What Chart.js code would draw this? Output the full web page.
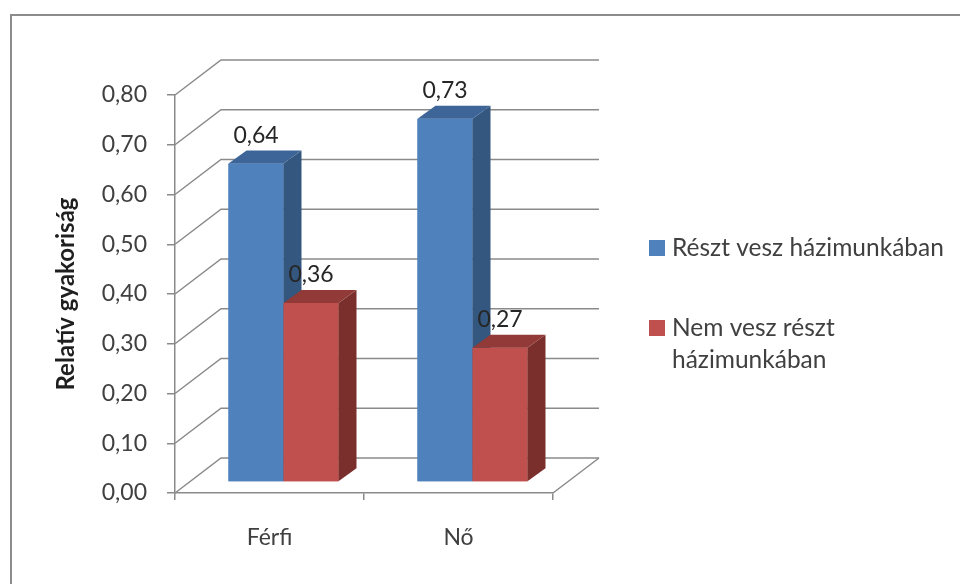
<!DOCTYPE html>
<html>
<head>
<meta charset="utf-8">
<script src="https://cdn.jsdelivr.net/npm/chart.js@4.4.1/dist/chart.umd.min.js"></script>
<style>
html,body{margin:0;padding:0;background:#fff;}
#wrap{width:960px;height:584px;position:relative;}
</style>
</head>
<body>
<div id="wrap"><canvas id="c" width="960" height="584"></canvas></div>
<script>
// ---- data ----
const categories = ['Férfi', 'Nő'];
const seriesLabels = ['Részt vesz házimunkában', 'Nem vesz részt házimunkában'];
const legendLines = [['Részt vesz házimunkában'], ['Nem vesz részt', 'házimunkában']];
const valuesReszt = [0.64, 0.73];
const valuesNem = [0.36, 0.27];
const yMin = 0, yMax = 0.8, yStep = 0.1;
const yTitle = 'Relatív gyakoriság';

// ---- style ----
const FONT = 'Lato, "Open Sans", sans-serif';
const FS = 23;
const LEGEND_FS = 24.5;
const frontColors = ['#4F81BD', '#C0504D'];
const sideColors = ['#34577F', '#7A2F2D'];
const topColors = ['#3D6598', '#913A37'];
const gridColor = '#8a8a8a';
const WALL_DX = 46, WALL_DY = -35;   // 3D depth of walls
const BAR_SHIFT_X = 14, BAR_SHIFT_Y = -11; // bars sit in middle depth
const BAR_DX = 18, BAR_DY = -13;     // bar depth
const fmt = v => v.toFixed(2).replace('.', ',');

const threeD = {
  id: 'threeD',
  beforeDraw(chart) {
    const ctx = chart.ctx;
    ctx.save();
    ctx.strokeStyle = '#8c8c8c';
    ctx.lineWidth = 2;
    ctx.strokeRect(11, 15, 1100, 800);
    ctx.restore();
  },
  beforeDatasetsDraw(chart) {
    const ctx = chart.ctx;
    const xs = chart.scales.x, ys = chart.scales.y;
    ctx.save();
    ctx.strokeStyle = gridColor;
    ctx.lineWidth = 1.5;
    ys.ticks.forEach(t => {
      const py = ys.getPixelForValue(t.value);
      ctx.beginPath();
      ctx.moveTo(xs.left, py);
      ctx.lineTo(xs.left + WALL_DX, py + WALL_DY);
      ctx.lineTo(xs.right + WALL_DX, py + WALL_DY);
      ctx.stroke();
    });
    const pb = ys.getPixelForValue(yMin);
    ctx.beginPath();
    ctx.moveTo(xs.right, pb);
    ctx.lineTo(xs.right + WALL_DX, pb + WALL_DY);
    ctx.stroke();
    ctx.restore();
    ctx.save();
    ctx.translate(BAR_SHIFT_X, BAR_SHIFT_Y);
  },
  afterDatasetsDraw(chart) {
    const ctx = chart.ctx;
    chart.data.datasets.forEach((ds, i) => {
      const meta = chart.getDatasetMeta(i);
      meta.data.forEach((bar, j) => {
        const p = bar.getProps(['x', 'y', 'base', 'width'], true);
        const l = p.x - p.width / 2, r = p.x + p.width / 2;
        ctx.fillStyle = frontColors[i];
        ctx.fillRect(l, p.y, p.width, p.base - p.y);
        ctx.fillStyle = sideColors[i];
        ctx.beginPath();
        ctx.moveTo(r, p.y);
        ctx.lineTo(r + BAR_DX, p.y + BAR_DY);
        ctx.lineTo(r + BAR_DX, p.base + BAR_DY);
        ctx.lineTo(r, p.base);
        ctx.closePath();
        ctx.fill();
        ctx.fillStyle = topColors[i];
        ctx.beginPath();
        ctx.moveTo(l, p.y);
        ctx.lineTo(l + BAR_DX, p.y + BAR_DY);
        ctx.lineTo(r + BAR_DX, p.y + BAR_DY);
        ctx.lineTo(r, p.y);
        ctx.closePath();
        ctx.fill();
      });
    });
    chart.data.datasets.forEach((ds, i) => {
      const meta = chart.getDatasetMeta(i);
      meta.data.forEach((bar, j) => {
        const p = bar.getProps(['x', 'y'], true);
        ctx.fillStyle = '#262626';
        ctx.font = FS + 'px ' + FONT;
        ctx.textAlign = 'center';
        ctx.textBaseline = 'middle';
        ctx.fillText(fmt(ds.data[j]), p.x, p.y - 28);
      });
    });
    ctx.restore();
  },
  afterDraw(chart) {
    const ctx = chart.ctx;
    ctx.save();
    ctx.font = LEGEND_FS + 'px ' + FONT;
    ctx.textBaseline = 'middle';
    ctx.textAlign = 'left';
    const starts = [248, 328];
    chart.data.datasets.forEach((ds, i) => {
      const y0 = starts[i];
      ctx.fillStyle = ds.backgroundColor;
      ctx.fillRect(649, y0 - 8, 16, 16);
      ctx.fillStyle = '#404040';
      legendLines[i].forEach((line, k) => {
        ctx.fillText(line, 672, y0 + k * 32);
      });
    });
    ctx.restore();
  }
};

new Chart(document.getElementById('c'), {
  type: 'bar',
  data: {
    labels: categories,
    datasets: [
      { label: seriesLabels[0], data: valuesReszt, backgroundColor: frontColors[0], categoryPercentage: 0.582, barPercentage: 1, borderWidth: 0 },
      { label: seriesLabels[1], data: valuesNem, backgroundColor: frontColors[1], categoryPercentage: 0.582, barPercentage: 1, borderWidth: 0 }
    ]
  },
  options: {
    responsive: false,
    devicePixelRatio: 1,
    animation: false,
    clip: false,
    layout: { padding: { left: 0, top: 95, right: 407, bottom: 0 } },
    plugins: {
      legend: { display: false },
      tooltip: { enabled: false },
      title: { display: false }
    },
    scales: {
      x: {
        offset: true,
        grid: { offset: true, drawOnChartArea: false, tickLength: 7, color: gridColor, lineWidth: 1.5 },
        border: { color: gridColor, width: 1.5 },
        ticks: { font: { family: FONT, size: FS }, color: '#404040', padding: 24 },
        afterFit: s => { s.height = 91; }
      },
      y: {
        min: yMin, max: yMax,
        grid: { drawOnChartArea: false, tickLength: 8, color: gridColor, lineWidth: 1.5 },
        border: { color: gridColor, width: 1.5 },
        ticks: { stepSize: yStep, font: { family: FONT, size: FS }, color: '#404040', padding: 20, callback: v => fmt(v) },
        title: { display: true, text: yTitle, font: { family: FONT, size: 24, weight: 'bold' }, color: '#1f1f1f', padding: { top: 52, bottom: 0 } },
        afterFit: s => { s.width = 175; }
      }
    }
  },
  plugins: [threeD]
});
</script>
</body>
</html>
